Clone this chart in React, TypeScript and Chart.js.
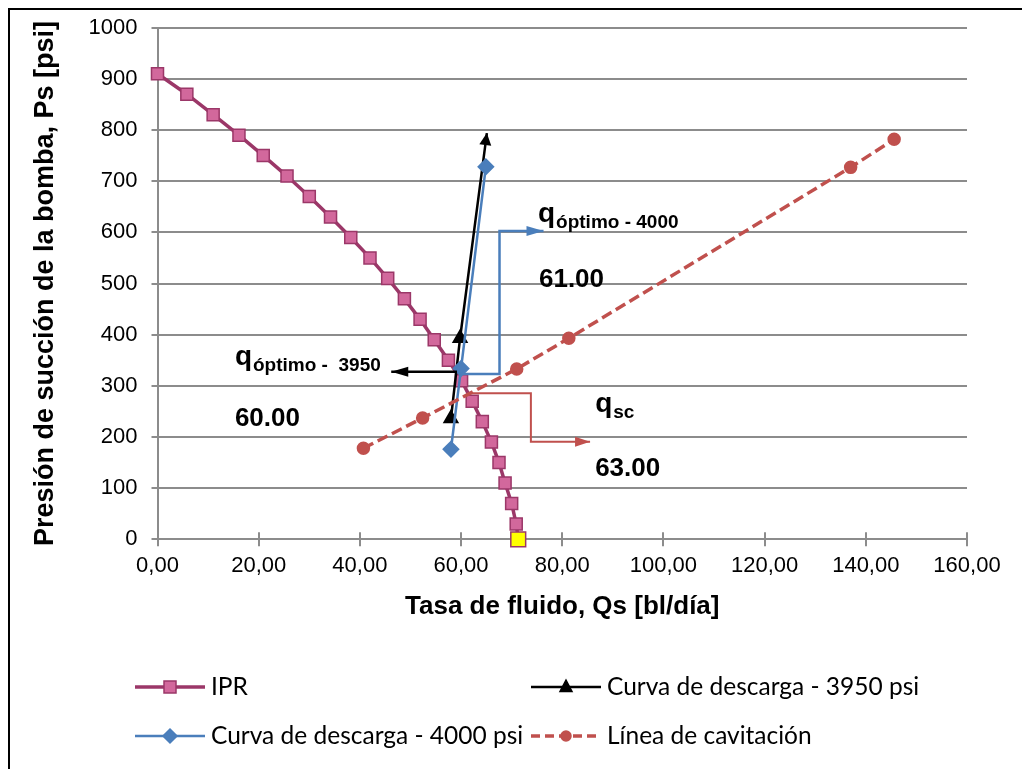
import React, { useEffect, useRef } from 'react';
import { Chart, registerables } from 'chart.js';

Chart.register(...registerables);

// IPR curve: fluid rate (bl/día) vs pump suction pressure (psi)
const iprQ = [0, 5.8, 11.0, 16.1, 20.9, 25.6, 30.0, 34.2, 38.2, 42.0, 45.5, 48.8, 51.9, 54.7, 57.5, 60.1, 62.2, 64.2, 66.0, 67.5, 68.7, 70.0, 70.9, 71.3];
const iprP = [910, 870, 830, 790, 750, 710, 670, 630, 590, 550, 510, 470, 430, 390, 350, 310, 270, 230, 190, 150, 110, 70, 30, 0];

// Discharge curve at 3950 psi
const d3950Q = [58.0, 59.8, 65.1];
const d3950P = [236, 393, 794];

// Discharge curve at 4000 psi
const d4000Q = [58.0, 60.0, 64.9];
const d4000P = [176, 334, 728];

// Cavitation line
const cavQ = [40.7, 52.4, 71.0, 81.3, 137.0, 145.6];
const cavP = [178, 237, 333, 393, 727, 782];

// Leader lines pointing at the operating-point labels
const lead3950Q = [59.2, 46.2];
const lead3950P = [327.6, 327.6];
const lead4000Q = [59.8, 67.6, 67.6, 76.3];
const lead4000P = [323, 323, 602.6, 602.6];
const leadScQ = [61.8, 73.8, 73.8, 85.5];
const leadScP = [285.4, 285.4, 190.8, 190.8];

// Axis tick labels
const xTickLabels = ['0,00', '20,00', '40,00', '60,00', '80,00', '100,00', '120,00', '140,00', '160,00'];
const yTickLabels = ['0', '100', '200', '300', '400', '500', '600', '700', '800', '900', '1000'];

// Operating-point labels (anchored in data units: left edge / baseline)
const noteNames = ['óptimo - 4000', 'óptimo -  3950', 'sc'];
const noteValues = ['61.00', '60.00', '63.00'];
const noteAnchorQ = [75.2, 15.3, 86.5];
const noteAnchorP = [620, 341, 249];
const valueAnchorQ = [75.4, 15.3, 86.5];
const valueAnchorP = [493, 221, 124];

const legendNames = ['IPR', 'Curva de descarga - 3950 psi', 'Curva de descarga - 4000 psi', 'Línea de cavitación'];

const FONT = '"Liberation Sans", Arial, sans-serif';
const LEGEND_FONT = 'Lato, "Open Sans", sans-serif';

const C_IPR = '#9b3768';
const C_IPR_FILL = '#d2689c';
const C_BLACK = '#000000';
const C_BLUE = '#4a7ebb';
const C_RED = '#c0504d';
const C_GRID = '#8c8c8c';

const pts = (xs: number[], ys: number[]) => xs.map((x, i) => ({ x, y: ys[i] }));

function marker(ctx: CanvasRenderingContext2D, kind: string, x: number, y: number, fill: string, stroke: string) {
  ctx.save();
  ctx.fillStyle = fill;
  ctx.strokeStyle = stroke;
  ctx.lineWidth = 1.5;
  ctx.setLineDash([]);
  ctx.beginPath();
  if (kind === 'rect') {
    ctx.rect(x - 6, y - 6, 12, 12);
  } else if (kind === 'triangle') {
    ctx.moveTo(x, y - 7);
    ctx.lineTo(x + 6, y + 4.5);
    ctx.lineTo(x - 6, y + 4.5);
    ctx.closePath();
  } else if (kind === 'diamond') {
    ctx.moveTo(x, y - 7);
    ctx.lineTo(x + 7, y);
    ctx.lineTo(x, y + 7);
    ctx.lineTo(x - 7, y);
    ctx.closePath();
  } else {
    ctx.arc(x, y, 5, 0, Math.PI * 2);
  }
  ctx.fill();
  ctx.stroke();
  ctx.restore();
}

const decorPlugin = {
  id: 'decor',
  beforeDraw(chart: any) {
    const { ctx, width, height } = chart;
    ctx.save();
    ctx.fillStyle = '#ffffff';
    ctx.fillRect(0, 0, width, height);
    ctx.fillStyle = '#000000';
    ctx.fillRect(8, 8, width - 8, 2);
    ctx.fillRect(8, 8, 2, height - 8);
    ctx.restore();
  },
  afterDatasetsDraw(chart: any) {
    const { ctx, chartArea } = chart;
    const xs = chart.scales.x;
    const ys = chart.scales.y;

    // cross-style tick marks on the inner side of the horizontal axis
    ctx.save();
    ctx.strokeStyle = C_GRID;
    ctx.lineWidth = 2;
    xs.ticks.forEach((t: any) => {
      const px = Math.round(xs.getPixelForValue(t.value));
      ctx.beginPath();
      ctx.moveTo(px, chartArea.bottom - 7);
      ctx.lineTo(px, chartArea.bottom);
      ctx.stroke();
    });
    ctx.restore();

    // arrowheads at the end of flagged series
    chart.data.datasets.forEach((ds: any, i: number) => {
      if (!ds.arrow) return;
      const data = chart.getDatasetMeta(i).data;
      const a = data[data.length - 2];
      const b = data[data.length - 1];
      const ang = Math.atan2(b.y - a.y, b.x - a.x);
      ctx.save();
      ctx.translate(b.x, b.y);
      ctx.rotate(ang);
      ctx.beginPath();
      ctx.moveTo(0, 0);
      ctx.lineTo(-ds.arrow.len, -ds.arrow.half);
      ctx.lineTo(-ds.arrow.len, ds.arrow.half);
      ctx.closePath();
      ctx.fillStyle = ds.borderColor;
      ctx.fill();
      ctx.restore();
    });

    // operating-point labels
    ctx.save();
    ctx.fillStyle = '#000000';
    ctx.textBaseline = 'alphabetic';
    ctx.textAlign = 'left';
    noteNames.forEach((sub, i) => {
      const px = xs.getPixelForValue(noteAnchorQ[i]);
      const py = ys.getPixelForValue(noteAnchorP[i]);
      ctx.font = `bold 28px ${FONT}`;
      ctx.fillText('q', px, py);
      const w = ctx.measureText('q').width;
      ctx.font = `bold 19px ${FONT}`;
      ctx.fillText(sub, px + w + 1, py + 6);
      ctx.font = `bold 26px ${FONT}`;
      ctx.fillText(noteValues[i], xs.getPixelForValue(valueAnchorQ[i]), ys.getPixelForValue(valueAnchorP[i]));
    });
    ctx.restore();
  },
  afterDraw(chart: any) {
    const { ctx } = chart;
    const rows = [687, 736];
    const cols = [135, 531];
    const lineLen = 70;
    const entries = [
      { col: 0, row: 0, color: C_IPR, width: 3.5, dash: [], kind: 'rect', fill: C_IPR_FILL },
      { col: 1, row: 0, color: C_BLACK, width: 2.5, dash: [], kind: 'triangle', fill: C_BLACK },
      { col: 0, row: 1, color: C_BLUE, width: 2.5, dash: [], kind: 'diamond', fill: C_BLUE },
      { col: 1, row: 1, color: C_RED, width: 3.5, dash: [9, 5], kind: 'circle', fill: C_RED },
    ];
    ctx.save();
    entries.forEach((e, i) => {
      const x0 = cols[e.col];
      const y = rows[e.row];
      ctx.strokeStyle = e.color;
      ctx.lineWidth = e.width;
      ctx.setLineDash(e.dash);
      ctx.beginPath();
      ctx.moveTo(x0, y);
      ctx.lineTo(x0 + lineLen, y);
      ctx.stroke();
      marker(ctx, e.kind, x0 + lineLen / 2, y, e.fill, e.color);
      ctx.fillStyle = '#000000';
      ctx.font = `24.5px ${LEGEND_FONT}`;
      ctx.textBaseline = 'middle';
      ctx.textAlign = 'left';
      ctx.fillText(legendNames[i], x0 + lineLen + 6, y);
    });
    ctx.restore();
  },
};

export default function App() {
  const ref = useRef<HTMLCanvasElement>(null);

  useEffect(() => {
    if (!ref.current) return;
    const iprRadius = iprQ.map((_, i) => (i === iprQ.length - 1 ? 10.5 : 8.5));
    const iprFill = iprQ.map((_, i) => (i === iprQ.length - 1 ? '#ffff00' : C_IPR_FILL));

    const chart = new Chart(ref.current, {
      type: 'line',
      data: {
        datasets: [
          {
            label: 'leader-3950',
            data: pts(lead3950Q, lead3950P),
            borderColor: C_BLACK,
            borderWidth: 2.5,
            pointRadius: 0,
            clip: false,
            order: 0,
            arrow: { len: 17, half: 5 },
          } as any,
          {
            label: 'leader-4000',
            data: pts(lead4000Q, lead4000P),
            borderColor: C_BLUE,
            borderWidth: 2.5,
            pointRadius: 0,
            clip: false,
            order: 0,
            arrow: { len: 17, half: 5 },
          },
          {
            label: 'leader-sc',
            data: pts(leadScQ, leadScP),
            borderColor: C_RED,
            borderWidth: 2,
            pointRadius: 0,
            clip: false,
            order: 0,
            arrow: { len: 15, half: 5 },
          },
          {
            label: legendNames[3],
            data: pts(cavQ, cavP),
            borderColor: C_RED,
            backgroundColor: C_RED,
            borderWidth: 3.5,
            borderDash: [11, 5],
            pointStyle: 'circle',
            pointRadius: 5,
            pointBackgroundColor: C_RED,
            pointBorderColor: C_RED,
            clip: false,
            order: 1,
          },
          {
            label: legendNames[2],
            data: pts(d4000Q, d4000P),
            borderColor: C_BLUE,
            backgroundColor: C_BLUE,
            borderWidth: 2.5,
            pointStyle: 'rectRot',
            pointRadius: 7,
            pointBackgroundColor: C_BLUE,
            pointBorderColor: C_BLUE,
            clip: false,
            order: 2,
          },
          {
            label: legendNames[1],
            data: pts(d3950Q, d3950P),
            borderColor: C_BLACK,
            backgroundColor: C_BLACK,
            borderWidth: 2.5,
            pointStyle: 'triangle',
            pointRadius: [7, 7, 0],
            pointBackgroundColor: C_BLACK,
            pointBorderColor: C_BLACK,
            clip: false,
            order: 3,
            arrow: { len: 12, half: 6 },
          },
          {
            label: legendNames[0],
            data: pts(iprQ, iprP),
            borderColor: C_IPR,
            backgroundColor: C_IPR_FILL,
            borderWidth: 3.5,
            pointStyle: 'rect',
            pointRadius: iprRadius,
            pointBackgroundColor: iprFill,
            pointBorderColor: C_IPR,
            pointBorderWidth: 1.5,
            clip: false,
            order: 4,
          },
        ],
      },
      options: {
        responsive: false,
        animation: false,
        devicePixelRatio: 1,
        layout: { padding: { left: 0, top: 27.7, right: 55, bottom: 0 } },
        plugins: {
          legend: { display: false },
          tooltip: { enabled: false },
        },
        elements: { line: { tension: 0 } },
        scales: {
          x: {
            type: 'linear',
            min: 0,
            max: 160,
            ticks: {
              stepSize: 20,
              padding: 6,
              color: '#000000',
              font: { family: FONT, size: 22 },
              callback: (_v: any, i: number) => xTickLabels[i],
            },
            grid: { drawOnChartArea: false, tickLength: 7, color: C_GRID, lineWidth: 2 },
            border: { color: C_GRID, width: 2 },
            title: {
              display: true,
              text: 'Tasa de fluido, Qs [bl/día]',
              color: '#000000',
              font: { family: FONT, size: 26, weight: 'bold' },
              padding: { top: 0, bottom: 147 },
            },
            afterFit: (s: any) => {
              s.height = 229.7;
            },
          },
          y: {
            type: 'linear',
            min: 0,
            max: 1000,
            ticks: {
              stepSize: 100,
              padding: 14,
              color: '#000000',
              font: { family: FONT, size: 22 },
              callback: (_v: any, i: number) => yTickLabels[i],
            },
            grid: { color: C_GRID, lineWidth: 2, tickLength: 6 },
            border: { color: C_GRID, width: 2 },
            title: {
              display: true,
              text: 'Presión de succión de la bomba, Ps [psi]',
              color: '#000000',
              font: { family: FONT, size: 27, weight: 'bold' },
              padding: { top: 29, bottom: 0 },
            },
            afterFit: (s: any) => {
              s.width = 157.5;
            },
          },
        },
      } as any,
      plugins: [decorPlugin],
    });

    return () => chart.destroy();
  }, []);

  return (
    <div style={{ position: 'fixed', left: 0, top: 0, width: 1022, height: 769, background: '#ffffff' }}>
      <canvas ref={ref} width={1022} height={769} style={{ display: 'block', width: 1022, height: 769 }} />
    </div>
  );
}
